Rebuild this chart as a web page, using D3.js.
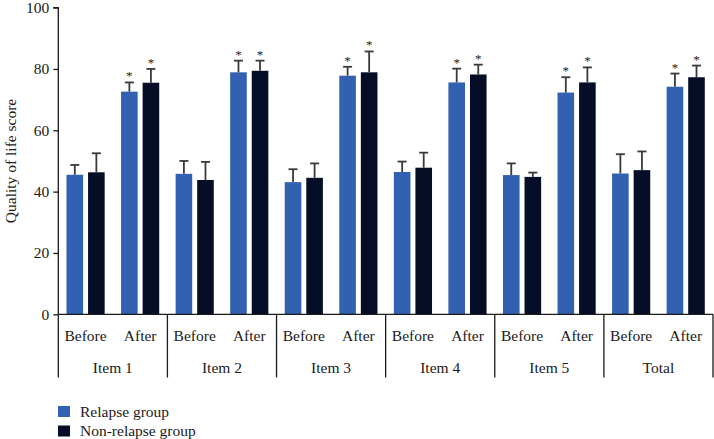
<!DOCTYPE html>
<html>
<head>
<meta charset="utf-8">
<script src="https://cdn.jsdelivr.net/npm/d3@7"></script>
<style>
  html, body { margin: 0; padding: 0; background: #fff; }
  svg { display: block; }
  svg text { font-family: "Liberation Serif", "Times New Roman", serif !important; fill: #1a1a1a; }
</style>
</head>
<body>
<svg id="chart" width="714" height="439"></svg>
<script>
const items = ["Item 1", "Item 2", "Item 3", "Item 4", "Item 5", "Total"];
const phases = ["Before", "After"];
const groups = ["Relapse group", "Non-relapse group"];
const colors = ["#3261b1", "#050e26"];
const yTicks = [0, 20, 40, 60, 80, 100];

// mean values, ordered by item then phase
const relapseMean    = [45.5, 72.6, 45.8, 78.9, 43.1, 77.8, 46.4, 75.6, 45.4, 72.3, 45.9, 74.2];
const relapseUpper   = [48.7, 75.6, 50.0, 82.7, 47.3, 80.7, 49.8, 80.1, 49.2, 77.3, 52.2, 78.5];
const nonRelapseMean = [46.3, 75.5, 43.8, 79.4, 44.5, 78.9, 47.8, 78.2, 44.8, 75.6, 47.0, 77.3];
const nonRelapseUpper= [52.5, 80.0, 49.7, 82.7, 49.2, 85.7, 52.7, 81.4, 46.2, 80.5, 53.1, 81.1];
const significant    = [false, true, false, true, false, true, false, true, false, true, false, true];

const svg = d3.select("#chart");
const mLeft = 58.3, mRight = 713, mTop = 7.6, mBottom = 314.3;

const y = d3.scaleLinear().domain([0, 100]).range([mBottom, mTop]);
const x0 = d3.scaleBand().domain(items).range([mLeft, mRight]).padding(0);
const x1 = d3.scaleBand().domain(phases).range([0, x0.bandwidth()]).padding(0);
const x2 = d3.scaleBand().domain(groups).range([0, x1.bandwidth()])
  .paddingInner(0.23).paddingOuter(0.38);

const data = [];
items.forEach((it, i) => phases.forEach((ph, j) => {
  const k = i * 2 + j;
  data.push({item: it, phase: ph, group: groups[0], v: relapseMean[k], up: relapseUpper[k], sig: significant[k], c: colors[0]});
  data.push({item: it, phase: ph, group: groups[1], v: nonRelapseMean[k], up: nonRelapseUpper[k], sig: significant[k], c: colors[1]});
}));
const bx = d => x0(d.item) + x1(d.phase) + x2(d.group);

// bars
svg.append("g").selectAll("rect").data(data).join("rect")
  .attr("x", bx).attr("width", x2.bandwidth())
  .attr("y", d => y(d.v)).attr("height", d => y(0) - y(d.v))
  .attr("fill", d => d.c);

// error bars
const eb = svg.append("g").attr("stroke", "#3a3a3a").attr("stroke-width", 1.8);
data.forEach(d => {
  const cx = bx(d) + x2.bandwidth() / 2;
  eb.append("line").attr("x1", cx).attr("x2", cx).attr("y1", y(d.v)).attr("y2", y(d.up));
  eb.append("line").attr("x1", cx - 4.5).attr("x2", cx + 4.5).attr("y1", y(d.up)).attr("y2", y(d.up));
});

// asterisks
svg.append("g").selectAll("text").data(data.filter(d => d.sig)).join("text")
  .attr("x", d => bx(d) + x2.bandwidth() / 2)
  .attr("y", d => y(d.up) - 2)
  .attr("text-anchor", "middle").attr("font-size", 13)
  .style("fill", "#1a1a1a")
  .text("*");

// y axis
const yAxis = d3.axisLeft(y).tickValues(yTicks).tickSize(5).tickPadding(4);
const gy = svg.append("g").attr("transform", `translate(${mLeft},0)`).call(yAxis);
gy.attr("font-family", null);
gy.select(".domain").attr("stroke", "#1a1a1a").attr("stroke-width", 1.3).attr("d", `M-5,${mTop}H0V${mBottom}`);
gy.selectAll(".tick line").attr("stroke", "#1a1a1a").attr("stroke-width", 1.3);
gy.selectAll(".tick text").attr("font-size", 15.5).attr("fill", "#1a1a1a");

svg.append("text")
  .attr("transform", `translate(16,${(mTop + mBottom) / 2}) rotate(-90)`)
  .attr("text-anchor", "middle").attr("font-size", 15.5)
  .text("Quality of life score");

// x axis baseline
svg.append("line").attr("x1", mLeft).attr("x2", mRight).attr("y1", mBottom).attr("y2", mBottom)
  .attr("stroke", "#1a1a1a").attr("stroke-width", 1.3);

// separators
const seps = items.map(it => x0(it)).concat([mRight]);
svg.append("g").selectAll("line").data(seps).join("line")
  .attr("x1", d => d).attr("x2", d => d).attr("y1", mBottom).attr("y2", 377.5)
  .attr("stroke", "#1a1a1a").attr("stroke-width", 1.3);

// phase labels
const phaseLabels = [];
items.forEach(it => phases.forEach(ph => phaseLabels.push({it, ph})));
svg.append("g").selectAll("text").data(phaseLabels).join("text")
  .attr("x", d => x0(d.it) + x1(d.ph) + x1.bandwidth() / 2)
  .attr("y", 341).attr("text-anchor", "middle").attr("font-size", 15.5)
  .text(d => d.ph);

// item labels
svg.append("g").selectAll("text").data(items).join("text")
  .attr("x", d => x0(d) + x0.bandwidth() / 2)
  .attr("y", 373).attr("text-anchor", "middle").attr("font-size", 15.5)
  .text(d => d);

// legend
const lg = svg.append("g").selectAll("g").data(groups).join("g")
  .attr("transform", (d, i) => `translate(58,${406 + i * 19.5})`);
lg.append("rect").attr("width", 12).attr("height", 11).attr("fill", (d, i) => colors[i]);
lg.append("text").attr("x", 22).attr("y", 10.5).attr("font-size", 15.5).text(d => d);
</script>
</body>
</html>
